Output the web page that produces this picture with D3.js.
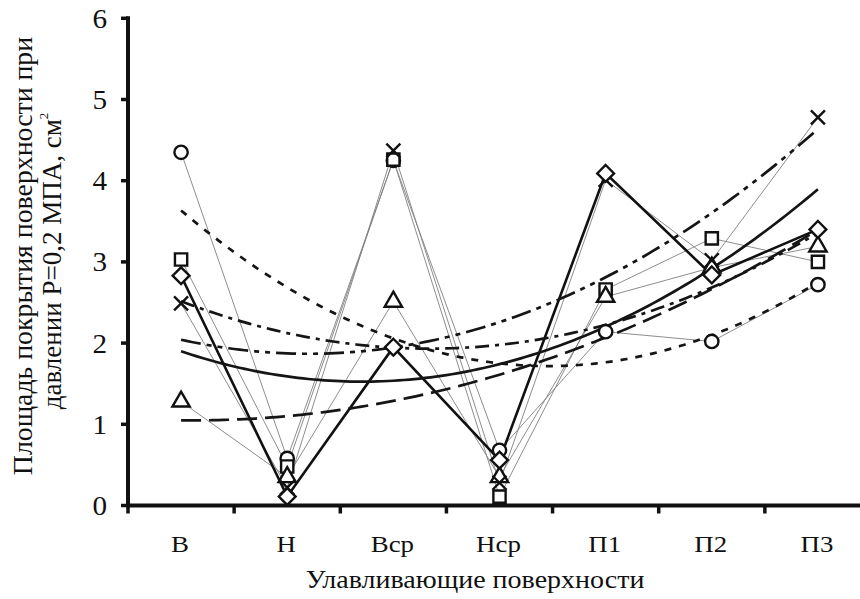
<!DOCTYPE html>
<html><head><meta charset="utf-8">
<script src="https://cdn.jsdelivr.net/npm/d3@7"></script>
<style>body{margin:0;background:#fff}svg{display:block}text{font-family:'Liberation Serif','Times New Roman','DejaVu Serif',serif}</style>
</head><body>
<svg id="c" width="860" height="599"></svg>
<script>
const categories = ["В", "Н", "Вср", "Нср", "П1", "П2", "П3"];
const circleSeries   = [4.35, 0.58, 4.25, 0.68, 2.14, 2.02, 2.72];
const squareSeries   = [3.03, 0.48, 4.26, 0.11, 2.66, 3.29, 3.00];
const triangleSeries = [1.28, 0.35, 2.51, 0.35, 2.57, 2.93, 3.19];
const crossSeries    = [2.49, 0.22, 4.37, 0.28, 4.01, 3.02, 4.78];
const diamondSeries  = [2.83, 0.11, 1.95, 0.56, 4.09, 2.84, 3.40];
const yTicks = [0, 1, 2, 3, 4, 5, 6];
const yTitle1 = "Площадь покрытия поверхности при";
const yTitle2 = "давлении P=0,2 МПА, см";
const xTitle = "Улавливающие поверхности";

const FONT = "'Liberation Serif', 'Times New Roman', 'DejaVu Serif', serif";

const series = [
  {name:"circle", values:circleSeries, sym:d3.symbolCircle, size:140, dash:"7,8"},
  {name:"square", values:squareSeries, sym:d3.symbolSquare, size:150, dash:"14,6,4,6"},
  {name:"triangle", values:triangleSeries, sym:d3.symbolTriangle, size:130, dash:"20,8"},
  {name:"cross", values:crossSeries, sym:null, size:0, dash:"20,6,5,6,5,6"},
  {name:"diamond", values:diamondSeries, sym:d3.symbolDiamond2, size:180, dash:null}
];

const svg = d3.select("#c");
const pL = 128, pR = 871, pT = 18.3, pB = 505.5;
const xb = d3.scaleBand().domain(categories).range([pL, pR]).padding(0);
const xc = c => xb(c) + xb.bandwidth()/2;
const xi = d3.scaleLinear().domain([0, categories.length-1]).range([xc(categories[0]), xc(categories[categories.length-1])]);
const y = d3.scaleLinear().domain([0, 6]).range([pB, pT]);

function quadFit(vals){
  let S = [0,0,0,0,0], T=[0,0,0];
  vals.forEach((v,i)=>{ const x=i+1; for(let k=0;k<5;k++) S[k]+=Math.pow(x,k); for(let k=0;k<3;k++) T[k]+=v*Math.pow(x,k); });
  const A = [[S[0],S[1],S[2],T[0]],[S[1],S[2],S[3],T[1]],[S[2],S[3],S[4],T[2]]];
  for(let i=0;i<3;i++){ for(let j=i+1;j<3;j++){ const f=A[j][i]/A[i][i]; for(let k=i;k<4;k++) A[j][k]-=f*A[i][k]; } }
  const c=[0,0,0];
  for(let i=2;i>=0;i--){ let s=A[i][3]; for(let k=i+1;k<3;k++) s-=A[i][k]*c[k]; c[i]=s/A[i][i]; }
  return x => c[0]+c[1]*x+c[2]*x*x;
}

const line = d3.line().x((d,i)=>xc(categories[i])).y(d=>y(d));
series.forEach(s=>{
  svg.append("path").attr("d", line(s.values)).attr("fill","none")
    .attr("stroke", s.name==="diamond" ? "#111" : "#808080")
    .attr("stroke-width", s.name==="diamond" ? 2.6 : 0.9);
});

const tline = d3.line().x(d=>xi(d[0]-1)).y(d=>y(d[1]));
series.forEach(s=>{
  const f = quadFit(s.values);
  const pts = d3.range(1, 7.0001, 0.05).map(x=>[x, f(x)]);
  svg.append("path").attr("d", tline(pts)).attr("fill","none")
    .attr("stroke","#151515").attr("stroke-width",2.7)
    .attr("stroke-dasharray", s.dash);
});

series.forEach(s=>{
  const g = svg.append("g");
  s.values.forEach((v,i)=>{
    const cx = xc(categories[i]), cy = y(v);
    if(s.name==="cross"){
      g.append("path").attr("d",`M${cx-7},${cy-7}L${cx+7},${cy+7}M${cx-7},${cy+7}L${cx+7},${cy-7}`)
        .attr("stroke","#111").attr("stroke-width",2.4);
    } else {
      g.append("path").attr("d", d3.symbol().type(s.sym).size(s.size)())
        .attr("transform",`translate(${cx},${cy})`)
        .attr("fill","#fff").attr("stroke","#111").attr("stroke-width",2.4);
    }
  });
});

const ax = svg.append("g").attr("stroke","#111");
ax.append("line").attr("x1",pL).attr("x2",pR).attr("y1",pB).attr("y2",pB).attr("stroke-width",4);
ax.append("line").attr("x1",pL).attr("x2",pL).attr("y1",pB+2).attr("y2",pT-2).attr("stroke-width",4);
categories.forEach(c=>{
  ax.append("line").attr("x1",xb(c)).attr("x2",xb(c)).attr("y1",pB).attr("y2",pB+8).attr("stroke-width",3.5);
});
yTicks.forEach(t=>{
  ax.append("line").attr("x1",pL-7).attr("x2",pL).attr("y1",y(t)).attr("y2",y(t)).attr("stroke-width",3.5);
});

function txt(){ return svg.append("text").attr("font-family",FONT).style("font-family",FONT).attr("fill","#111"); }

yTicks.forEach(t=>{
  txt().attr("transform",`translate(107,${y(t)}) scale(1.08,1)`)
    .attr("text-anchor","end").attr("dy","0.35em").attr("font-size",27).text(t);
});
categories.forEach(c=>{
  txt().attr("transform",`translate(${xc(c)-1},552) scale(1.12,1)`)
    .attr("text-anchor","middle").attr("font-size",24).text(c);
});
txt().attr("transform","translate(475,588) scale(1.12,1)")
  .attr("text-anchor","middle").attr("font-size",25).text(xTitle);

txt().attr("transform","translate(32,256) rotate(-90)")
  .attr("text-anchor","middle").attr("font-size",27.8).text(yTitle1);
const t2 = txt().attr("transform","translate(61,261) rotate(-90)")
  .attr("text-anchor","middle").attr("font-size",27);
t2.append("tspan").text(yTitle2);
t2.append("tspan").attr("font-size",13).attr("dy",-13).text("2");
</script>
</body></html>
